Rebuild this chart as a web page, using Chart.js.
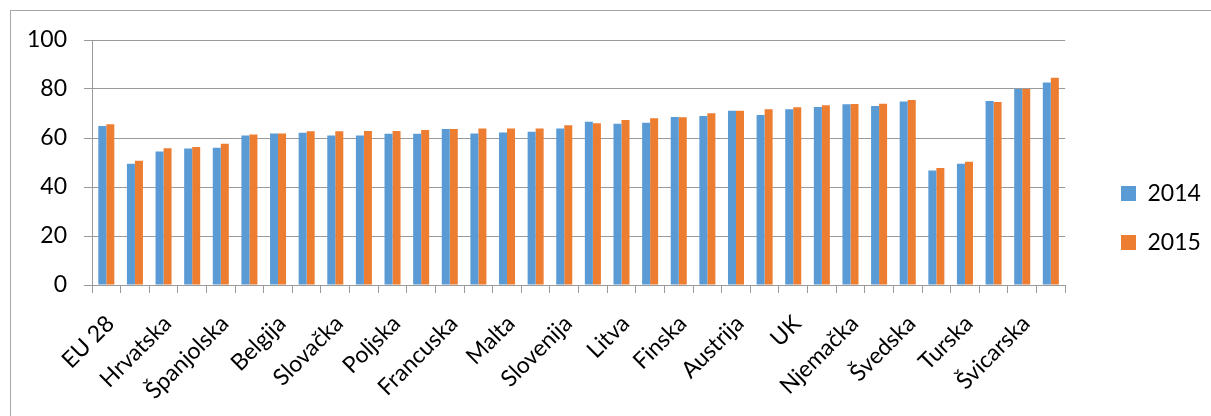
<!DOCTYPE html>
<html>
<head>
<meta charset="utf-8">
<script src="https://cdn.jsdelivr.net/npm/chart.js@4.4.1/dist/chart.umd.min.js"></script>
<style>
  html, body { margin: 0; padding: 0; background: #fff; overflow: hidden; }
  #frame { position: absolute; left: 10px; top: 10px; width: 1220px; height: 430px; border: 1px solid #a6a6a6; box-sizing: border-box; }
  #wrap { position: absolute; left: 0; top: 0; width: 1211px; height: 416px; }
</style>
</head>
<body>
<div id="frame"></div>
<div id="wrap"><canvas id="c" width="1211" height="416"></canvas></div>
<script>
const categories = ["EU 28", "Grčka", "Hrvatska", "Italija", "Španjolska", "Rumunjska", "Belgija", "Cipar",
  "Slovačka", "Bugarska", "Poljska", "Irska", "Francuska", "Mađarska", "Malta", "Portugal",
  "Slovenija", "Luksemburg", "Litva", "Latvija", "Finska", "Češka", "Austrija", "Estonija",
  "UK", "Danska", "Njemačka", "Nizozemska", "Švedska", "Makedonija", "Turska", "Norveška",
  "Švicarska", "Island"];
const series2014 = [64.9, 49.5, 54.5, 55.7, 56.0, 61.0, 61.8, 62.1, 61.0, 61.0, 61.7, 61.7, 63.7, 61.8, 62.2, 62.6,
  63.9, 66.6, 65.8, 66.2, 68.6, 69.0, 71.1, 69.4, 71.7, 72.7, 73.8, 73.1, 74.9, 46.7, 49.5, 75.1, 80.0, 82.7];
const series2015 = [65.6, 50.7, 55.8, 56.3, 57.7, 61.4, 61.8, 62.8, 62.8, 62.9, 62.9, 63.3, 63.7, 63.9, 63.9, 63.9,
  65.2, 66.0, 67.3, 68.1, 68.5, 70.1, 71.1, 71.7, 72.6, 73.4, 73.9, 74.0, 75.5, 47.8, 50.3, 74.7, 80.0, 84.6];
const seriesNames = ["2014", "2015"];
const yTicks = [0, 20, 40, 60, 80, 100];

const FONT = "Lato";
const FSIZE = 23;
const gridColor = "#9a9a9a";

// nudge the legend box into the place it has in the reference
const legendShift = {
  id: "legendShift",
  afterLayout(chart) {
    const lg = chart.legend;
    if (!lg) return;
    const dx = 1121 - 26 - lg.left;
    lg.left += dx; lg.right += dx;
    lg.top -= 10; lg.bottom -= 10;
  }
};

new Chart(document.getElementById("c"), {
  type: "bar",
  data: {
    labels: categories,
    datasets: [
      { label: seriesNames[0], data: series2014, backgroundColor: "#5B9BD5", borderWidth: 0,
        categoryPercentage: 0.56, barPercentage: 1.0 },
      { label: seriesNames[1], data: series2015, backgroundColor: "#ED7D31", borderWidth: 0,
        categoryPercentage: 0.56, barPercentage: 1.0 }
    ]
  },
  plugins: [legendShift],
  options: {
    responsive: false,
    animation: false,
    devicePixelRatio: 1,
    layout: { padding: { top: 40, right: 30, bottom: 0, left: 0 } },
    plugins: {
      tooltip: { enabled: false },
      legend: {
        position: "right",
        align: "center",
        labels: {
          boxWidth: 15, boxHeight: 15, padding: 26,
          color: "#000",
          font: { family: FONT, size: FSIZE }
        }
      }
    },
    scales: {
      x: {
        grid: { display: true, drawOnChartArea: false, drawTicks: true, tickLength: 8, color: gridColor, offset: true },
        border: { display: true, color: gridColor, width: 1 },
        ticks: {
          autoSkip: false, minRotation: 45, maxRotation: 45, padding: 17, labelOffset: 4,
          color: "#000", font: { family: FONT, size: FSIZE },
          callback: function (v, i) { return i % 2 === 0 ? categories[i] : ""; }
        },
        afterCalculateLabelRotation: function (s) { s.labelRotation = 45; },
        afterFit: function (s) { s.height = 131; }
      },
      y: {
        min: 0, max: 100,
        afterBuildTicks: function (s) { s.ticks = yTicks.map(v => ({ value: v })); },
        grid: { color: gridColor, tickLength: 8, drawTicks: true },
        border: { display: true, color: gridColor, width: 1 },
        ticks: { color: "#000", padding: 17, font: { family: FONT, size: FSIZE } },
        afterFit: function (s) { s.width = 92; }
      }
    }
  }
});
</script>
</body>
</html>
